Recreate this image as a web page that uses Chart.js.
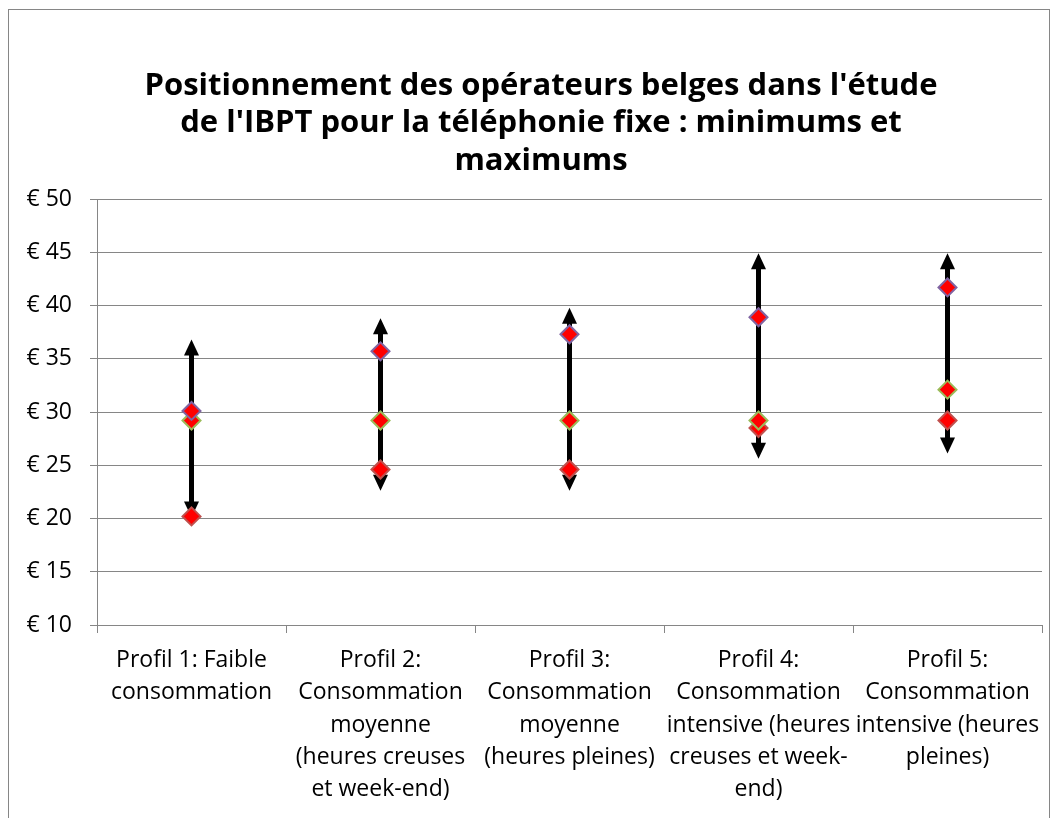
<!DOCTYPE html>
<html>
<head>
<meta charset="utf-8">
<script src="https://cdn.jsdelivr.net/npm/chart.js@4.4.0/dist/chart.umd.min.js"></script>
<style>
  body { margin: 0; background: #fff; }
  #cadre { position: absolute; left: 8px; top: 9px; width: 1040px; height: 900px; border: 1px solid #868686; }
  #graphique { position: absolute; left: 0; top: 0; }
</style>
</head>
<body>
<div id="cadre"></div>
<canvas id="graphique" width="1059" height="818"></canvas>
<script>
const profils = [
    ["Profil 1: Faible", "consommation"],
    ["Profil 2:", "Consommation", "moyenne", "(heures creuses", "et week-end)"],
    ["Profil 3:", "Consommation", "moyenne", "(heures pleines)"],
    ["Profil 4:", "Consommation", "intensive (heures", "creuses et week-", "end)"],
    ["Profil 5:", "Consommation", "intensive (heures", "pleines)"]
];
// bornes de l'étude (flèches)
const maxEtude = [36.8, 38.8, 39.8, 44.9, 44.9];
const minEtude = [20.1, 22.6, 22.6, 25.6, 26.1];
// positions des opérateurs belges
const serieHaute = [30.1, 35.7, 37.3, 38.9, 41.7];
const serieMilieu = [29.2, 29.2, 29.2, 29.2, 32.1];
const serieBasse = [20.2, 24.6, 24.6, 28.5, 29.2];
const ticksY = [10, 15, 20, 25, 30, 35, 40, 45, 50];
const euro = "\u20AC";

const police = "'Open Sans', 'Noto Sans', sans-serif";
const gris = "#868686";

const fleches = {
    id: "fleches",
    beforeDatasetsDraw(chart) {
        const { ctx, scales: { x, y } } = chart;
        ctx.save();
        ctx.fillStyle = "#000";
        ctx.strokeStyle = "#000";
        ctx.lineWidth = 5;
        profils.forEach((p, i) => {
            const px = x.getPixelForValue(i);
            const haut = y.getPixelForValue(maxEtude[i]);
            const bas = y.getPixelForValue(minEtude[i]);
            ctx.beginPath();
            ctx.moveTo(px, haut + 14);
            ctx.lineTo(px, bas - 14);
            ctx.stroke();
            ctx.beginPath();
            ctx.moveTo(px, haut);
            ctx.lineTo(px - 7.5, haut + 16);
            ctx.lineTo(px + 7.5, haut + 16);
            ctx.closePath();
            ctx.fill();
            ctx.beginPath();
            ctx.moveTo(px, bas);
            ctx.lineTo(px - 7.5, bas - 16);
            ctx.lineTo(px + 7.5, bas - 16);
            ctx.closePath();
            ctx.fill();
        });
        ctx.restore();
    }
};

// le titre d'Excel est centré un peu à droite du centre du canevas
const decalageTitre = {
    id: "decalageTitre",
    afterLayout(chart) {
        if (chart.titleBlock) chart.titleBlock.left += 40;
    }
};

function serie(data, bord) {
    return {
        data,
        showLine: false,
        pointStyle: "rectRot",
        pointRadius: 9,
        pointHoverRadius: 9,
        pointBackgroundColor: "#ff0000",
        pointBorderColor: bord,
        pointBorderWidth: 2
    };
}

new Chart(document.getElementById("graphique"), {
    type: "line",
    data: {
        labels: profils,
        datasets: [
            serie(serieHaute, "#8064a2"),
            serie(serieMilieu, "#9bbb59"),
            serie(serieBasse, "#c0504d")
        ]
    },
    options: {
        responsive: false,
        animation: false,
        layout: { padding: { left: 0, right: 17, top: 0, bottom: 0 } },
        plugins: {
            legend: { display: false },
            tooltip: { enabled: false },
            title: {
                display: true,
                text: [
                    "Positionnement des opérateurs belges dans l'étude",
                    "de l'IBPT pour la téléphonie fixe : minimums et",
                    "maximums"
                ],
                color: "#000",
                font: { family: police, weight: "bold", size: 31, lineHeight: 1.21 },
                padding: { top: 67, bottom: 19.5 }
            }
        },
        scales: {
            x: {
                type: "category",
                offset: true,
                grid: { offset: true, drawOnChartArea: false, tickLength: 8, color: gris },
                border: { color: gris },
                ticks: {
                    color: "#000",
                    font: { family: police, size: 23, lineHeight: 1.41 },
                    maxRotation: 0,
                    autoSkip: false,
                    padding: 11
                },
                afterFit(scale) { scale.height = 193; }
            },
            y: {
                type: "linear",
                min: 10,
                max: 50,
                grid: { color: gris, tickLength: 7 },
                border: { color: gris },
                ticks: {
                    color: "#000",
                    font: { family: police, size: 23 },
                    padding: 18,
                    callback: v => euro + " " + v
                },
                afterBuildTicks(scale) { scale.ticks = ticksY.map(v => ({ value: v })); },
                afterFit(scale) { scale.width = 97; }
            }
        }
    },
    plugins: [fleches, decalageTitre]
});
</script>
</body>
</html>
